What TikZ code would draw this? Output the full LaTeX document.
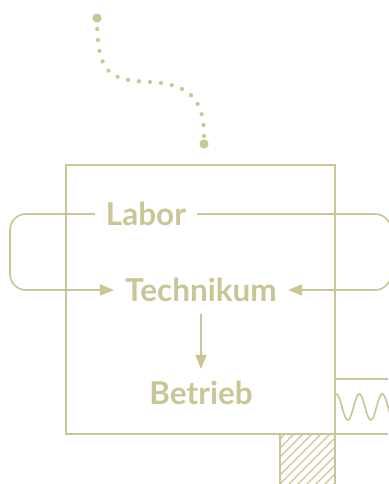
\documentclass[tikz,border=0pt]{standalone}
\usepackage{fontspec}
\setmainfont{Lato}
\usepackage{tikz}
\usetikzlibrary{arrows.meta}
\definecolor{oliv}{HTML}{C9C594}

\tikzset{
  linie/.style={oliv, line width=1.6pt},
  pfeil/.style={linie, -{Triangle[length=14pt,width=11pt]}},
  stufe/.style={oliv, font=\fontsize{31.5}{33}\selectfont\bfseries, inner xsep=11pt, inner ysep=12pt},
}

\begin{document}
\begin{tikzpicture}[x=1pt,y=-1pt]
 \useasboundingbox (0,0) rectangle (388,484);

 % Punktierte Kurve
 \fill[oliv] (97,18) circle (4.6);
 \fill[oliv] (204,144) circle (4.6);
 \draw[oliv, line width=4.2pt, line cap=round, dash pattern=on 0pt off 11pt, dash phase=-11pt]
   (97,18) .. controls (97,75) and (110,80) .. (150,82)
           .. controls (190,84) and (204,100) .. (204,136);

 % Rahmen
 \draw[linie] (66,165) rectangle (335,434);

 % Stufen
 \node[stufe] (labor)     at (146,214) {Labor};
 \node[stufe] (technikum) at (201,290) {Technikum};
 \node[stufe] (betrieb)   at (201,393) {Betrieb};

 % Pfeile
 \coordinate (links)  at (10,0);
 \coordinate (rechts) at (391,0);
 \draw[pfeil, rounded corners=16pt] (labor.west) -- (labor.west -| links)
   -- (technikum.west -| links) -- (technikum.west);
 \draw[pfeil, rounded corners=16pt] (labor.east) -- (labor.east -| rechts)
   -- (technikum.east -| rechts) -- (technikum.east);
 \draw[pfeil] (technikum.south) -- (betrieb.north);

 % Welle rechts unten
 \draw[linie] (335,379) -- (388,379);
 \draw[linie] (335,434) -- (388,434);
 \draw[linie, domain=335:390, samples=80, smooth] plot (\x,{407-13*cos((\x-335)/23*360 - 20)});

 % Schraffur
 \begin{scope}
  \clip (280,434) rectangle (335,484);
  \foreach \i in {-8,...,8}
   \draw[oliv, line width=1.2pt] (270+9*\i,494) -- (270+9*\i+70,424);
 \end{scope}
 \draw[linie] (280,434) -- (280,484);
 \draw[linie] (335,434) -- (335,484);
\end{tikzpicture}
\end{document}
